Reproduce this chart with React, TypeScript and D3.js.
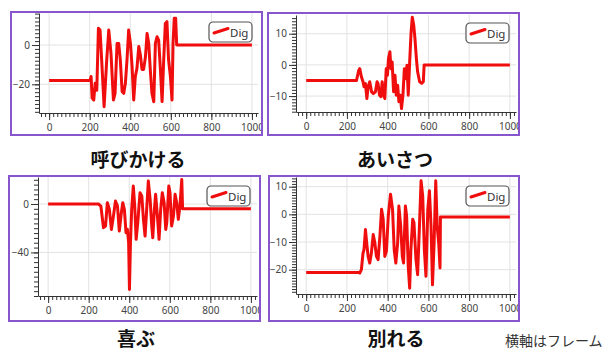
import { useEffect, useRef } from "react";
import * as d3 from "d3";

// chart text
const titles = ["呼びかける", "あいさつ", "喜ぶ", "別れる"];
const seriesName = "Dig";
const note = "横軸はフレーム";
const xTickValues = [0, 200, 400, 600, 800, 1000];
const xDomain = [-50, 1030];

// y axis ranges and major steps per panel
const yDomains = [[-34.6, 16.3], [-15.1, 16], [-76, 22.3], [-28.8, 13.5]];
const yMajorSteps = [20, 10, 40, 10];

// 呼びかける
const yobikakeruFrames = [0, 202, 207, 212, 220, 227, 235, 243, 251, 259, 271, 284, 294, 305, 317, 325, 335, 343, 351, 360, 368, 376, 384, 392, 401, 409, 417, 425, 433, 442, 450, 458, 466, 475, 483, 491, 499, 507, 516, 524, 532, 540, 548, 557, 565, 573, 581, 589, 598, 606, 611, 617, 624, 629, 1000];
const yobikakeruDig = [-18, -18, -16, -27, -28, -19.5, -23, 8.5, 7.6, -7.6, -31.4, -7.6, 7.6, -4.2, -28, -24.6, 0.8, 0.8, -7.6, -23.7, -24.6, -19.5, -7.6, 7.6, 0.8, -11, -28, -16, -11.9, -0.8, -5.1, -12.4, -12.4, -5.9, 5.9, 0.8, -12.7, -24.6, -28.8, 0.8, 4.2, 2.5, -11, -28.8, -7.6, 11, 11.9, -7.6, -16, -28, 0.8, 13.6, 13.6, 0, 0];

// あいさつ
const aisatsuFrames = [0, 247, 258, 263, 271, 279, 284, 291, 298, 304, 312, 321, 329, 340, 348, 353, 360, 367, 373, 380, 386, 393, 399, 404, 411, 416, 422, 429, 436, 442, 449, 455, 462, 468, 475, 482, 488, 495, 501, 508, 515, 521, 528, 534, 541, 547, 557, 567, 575, 579, 1000];
const aisatsuDig = [-5, -5, -1.7, -1.2, -3.8, -5.4, -7, -6, -10.8, -7, -5.4, -8.6, -9.2, -8.6, -5.4, -6, -9.7, -10.2, -5.4, -9.7, -10.8, -1.2, -3.3, 2, 4.2, -1.2, 0.9, -8.6, -3.3, -9.7, -6.5, -11.8, -9.7, -14, -9.7, -1.2, -4.4, -0.1, -9.7, 0.9, 10.5, 15.3, 12.7, 8.4, 2, -2.2, -5.4, -5.9, -5.4, 0, 0];

// 喜ぶ
const yorokobuFrames = [0, 248, 260, 273, 283, 292, 302, 312, 322, 332, 342, 351, 361, 368, 376, 384, 391, 397, 401, 406, 412, 420, 427, 434, 442, 453, 462, 470, 478, 486, 494, 503, 511, 516, 524, 530, 539, 547, 555, 563, 572, 580, 585, 595, 601, 609, 618, 626, 634, 642, 650, 659, 663, 1000];
const yorokobuDig = [0, 0, -1.7, -19.6, -18.2, 1.1, -4.5, -21, -10, 2.4, -1.7, -22.4, -7.2, 1.1, -4.5, -23.7, -21, -32, -70.6, -32, -4.5, 14.8, -1.7, -29.2, -15.5, 9.3, 6.6, -12.7, -26.5, -4.5, 19, 3.8, -18.2, -27.9, -4.5, 8, -10, -29.2, -4.5, 9.3, 1.1, -21, -15.5, 14.8, 9.3, -18.2, -10, 8, 1.1, -12.7, -1.7, 20.3, -4, -4];

// 別れる
const wakareruFrames = [0, 255, 263, 271, 279, 284, 291, 297, 304, 312, 320, 329, 337, 345, 353, 362, 370, 378, 386, 394, 403, 414, 424, 432, 440, 449, 455, 464, 472, 478, 487, 493, 501, 508, 514, 523, 529, 539, 547, 556, 564, 572, 580, 588, 597, 605, 613, 620, 628, 636, 643, 651, 657, 659, 1000];
const wakareruDig = [-21, -21, -21.2, -20, -14, -12.7, -5.5, -10.3, -15.2, -17.6, -14, -7.3, -10.3, -15.2, -16.4, -7.9, 1.8, -1.8, -15.2, -13.3, -0.6, 7.3, 1.8, -12.7, -17.6, -10.3, 3, -4.3, -15.2, -17.6, 3, -0.6, -18.8, -26.7, -12.7, -1.8, -3, -16.4, -21.8, -4.3, 12.1, 6.7, -12.7, -22.4, 1.8, 8.5, -4.3, -25.5, -10.3, 12.1, -4.3, -10.9, -19.4, -1, -1];

const frames = [yobikakeruFrames, aisatsuFrames, yorokobuFrames, wakareruFrames];
const digs = [yobikakeruDig, aisatsuDig, yorokobuDig, wakareruDig];

// layout
const W = 607;
const H = 351;
const boxes = [
  { x: 11, y: 12, w: 251, h: 123 },
  { x: 268, y: 13, w: 251, h: 122 },
  { x: 9, y: 176, w: 251, h: 145 },
  { x: 269, y: 176, w: 250, h: 145 },
];
const plots = [
  { left: 39, right: 258, top: 13, bottom: 113 },
  { left: 296, right: 516, top: 15, bottom: 112 },
  { left: 38, right: 257, top: 177, bottom: 296 },
  { left: 296, right: 516, top: 177, bottom: 294 },
];
const titlePos = [[138, 167], [395, 167], [136, 346], [396, 346]];

const FONT = "'Noto Sans', 'Open Sans', sans-serif";
const RED = "#f00d0d";

function drawPanel(svg, i) {
  const box = boxes[i];
  const p = plots[i];
  const defs = svg.append("defs");
  defs.append("clipPath").attr("id", `box-clip-${i}`)
    .append("rect").attr("x", box.x).attr("y", box.y).attr("width", box.w).attr("height", box.h);
  defs.append("clipPath").attr("id", `plot-clip-${i}`)
    .append("rect").attr("x", p.left).attr("y", p.top).attr("width", p.right - p.left).attr("height", p.bottom - p.top);

  const g = svg.append("g").attr("clip-path", `url(#box-clip-${i})`);

  const x = d3.scaleLinear(xDomain, [p.left, p.right]);
  const y = d3.scaleLinear(yDomains[i], [p.bottom, p.top]);
  const step = yMajorSteps[i];
  const [lo, hi] = yDomains[i];
  const yMajor = d3.range(Math.ceil(lo / step) * step, hi + 1e-9, step);
  const minorStep = step / 10;
  const yMinor = d3.range(Math.ceil(lo / minorStep) * minorStep, hi, minorStep);
  const xMinor = d3.range(-40, 1030, 20);

  //grid
  g.append("g").selectAll("line").data(xTickValues).join("line")
    .attr("x1", d => x(d)).attr("x2", d => x(d))
    .attr("y1", p.top).attr("y2", p.bottom)
    .attr("stroke", "#e2e2e2").attr("stroke-width", 1);
  g.append("g").selectAll("line").data(yMajor).join("line")
    .attr("x1", p.left).attr("x2", p.right)
    .attr("y1", d => y(d)).attr("y2", d => y(d))
    .attr("stroke", "#e2e2e2").attr("stroke-width", 1);

  //series
  const line = d3.line().x((d, k) => x(frames[i][k])).y(d => y(d));
  g.append("path").datum(digs[i])
    .attr("clip-path", `url(#plot-clip-${i})`)
    .attr("fill", "none").attr("stroke", RED).attr("stroke-width", 3)
    .attr("stroke-linejoin", "round")
    .attr("d", line);

  //axes
  const xAxis = g.append("g").attr("transform", `translate(0,${p.bottom})`)
    .call(d3.axisBottom(x).tickValues(xTickValues).tickSize(7).tickSizeOuter(0).tickPadding(4).tickFormat(d3.format("d")));
  g.append("g").attr("transform", `translate(0,${p.bottom})`)
    .call(d3.axisBottom(x).tickValues(xMinor).tickSize(4).tickFormat(() => ""))
    .call(a => a.select(".domain").remove());
  const yAxis = g.append("g").attr("transform", `translate(${p.left},0)`)
    .call(d3.axisLeft(y).tickValues(yMajor).tickSize(7).tickSizeOuter(0).tickPadding(2).tickFormat(d3.format("d")));
  g.append("g").attr("transform", `translate(${p.left},0)`)
    .call(d3.axisLeft(y).tickValues(yMinor).tickSize(4).tickFormat(() => ""))
    .call(a => a.select(".domain").remove());

  g.selectAll(".tick line, .domain").attr("stroke", "#333");
  [xAxis, yAxis].forEach(a => a.selectAll("text")
    .attr("fill", "#444").style("font-family", FONT).style("font-size", "10px"));

  //legend
  const lx = box.x + box.w - 10 - 43;
  const ly = box.y + 10;
  const leg = g.append("g").attr("transform", `translate(${lx},${ly})`);
  leg.append("rect").attr("width", 43).attr("height", 20).attr("rx", 4)
    .attr("fill", "#fff").attr("stroke", "#555").attr("stroke-width", 1.2);
  leg.append("line").attr("x1", 5).attr("y1", 11).attr("x2", 19).attr("y2", 6.5)
    .attr("stroke", RED).attr("stroke-width", 3).attr("stroke-linecap", "round");
  leg.append("text").attr("x", 21).attr("y", 14.5).text(seriesName)
    .attr("fill", "#333").style("font-family", FONT).style("font-size", "11.5px");

  //border
  svg.append("rect").attr("x", box.x).attr("y", box.y).attr("width", box.w).attr("height", box.h)
    .attr("fill", "none").attr("stroke", "#8855cc").attr("stroke-width", 2);

  //title
  svg.append("text").attr("x", titlePos[i][0]).attr("y", titlePos[i][1])
    .attr("text-anchor", "middle").text(titles[i])
    .attr("fill", "#111").style("font-family", "'Noto Sans CJK JP', sans-serif")
    .style("font-size", "19px").style("font-weight", "bold");
}

export default function App() {
  const ref = useRef(null);

  useEffect(() => {
    const svg = d3.select(ref.current);
    svg.selectAll("*").remove();
    svg.append("rect").attr("width", W).attr("height", H).attr("fill", "#fff");
    titles.forEach((t, i) => drawPanel(svg, i));
    svg.append("text").attr("x", 505).attr("y", 346).text(note)
      .attr("fill", "#333").style("font-family", "'Noto Sans CJK JP', sans-serif")
      .style("font-size", "14px");
  }, []);

  return (
    <svg ref={ref} width={W} height={H} style={{ position: "absolute", left: 0, top: 0 }} />
  );
}
